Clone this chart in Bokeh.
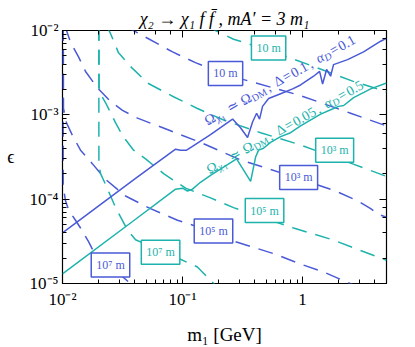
import math
from bokeh.plotting import figure
from bokeh.models import Range1d, LogAxis, Label, CustomJSTickFormatter
from bokeh.embed import file_html
from bokeh.resources import INLINE

BLUE = "#4a5ad6"
TEAL = "#1db3ac"
FONT = "Liberation Serif"

XMIN, XMAX = 0.01, 5.0
YMIN, YMAX = 1e-5, 1e-2

x_ticks = [0.01, 0.1, 1.0]
x_tick_labels = ["10⁻²", "10⁻¹", "1"]
y_ticks = [1e-5, 1e-4, 1e-3, 1e-2]
y_tick_labels = ["10⁻⁵", "10⁻⁴", "10⁻³", "10⁻²"]

# relic-density lines  (Omega_chi1 = Omega_DM)
relic_d01_m = [0.01, 0.0406, 0.0875, 0.0961, 0.108, 0.121, 0.171, 0.261, 0.304, 0.348, 0.383, 0.414,
               0.438, 0.464, 0.521, 0.656, 0.826, 0.962, 1.235, 1.386, 1.468, 1.585, 1.711, 1.81,
               2.37, 3.22, 4.47, 5.0]
relic_d01_eps = [3.98e-5, 1.76e-4, 3.91e-4, 3.81e-4, 3.81e-4, 4.24e-4, 5.82e-4, 8.91e-4, 7.02e-4,
                 5.38e-4, 8.22e-4, 1.045e-3, 8.91e-4, 1.26e-3, 1.56e-3, 1.78e-3, 2.03e-3, 2.26e-3,
                 2.87e-3, 3.27e-3, 2.32e-3, 3.45e-3, 2.87e-3, 3.94e-3, 4.51e-3, 5.57e-3, 7.46e-3, 8.09e-3]
relic_d005_m = [0.01, 0.0406, 0.0875, 0.1, 0.110, 0.121, 0.141, 0.171, 0.282, 0.369, 0.406, 0.430,
                0.473, 0.541, 0.656, 0.794, 0.962, 1.413, 1.81, 1.995, 2.20, 2.66, 3.69, 5.0]
relic_d005_eps = [1.30e-5, 5.78e-5, 1.315e-4, 1.35e-4, 1.25e-4, 1.315e-4, 1.585e-4, 1.91e-4, 3.00e-4,
                  1.625e-4, 3.16e-4, 3.81e-4, 4.02e-4, 4.71e-4, 5.52e-4, 6.14e-4, 7.39e-4, 1.02e-3,
                  1.19e-3, 1.26e-3, 1.29e-3, 1.60e-3, 2.03e-3, 2.38e-3]

# decay-length contours, Delta = 0.1 (blue)
b10_m = [0.0329, 0.0511, 0.0826, 0.128, 0.233, 0.335, 0.962, 2.51, 5.0]
b10_eps = [1.14e-2, 8.09e-3, 5.57e-3, 4.16e-3, 2.94e-3, 2.58e-3, 1.69e-3, 1.045e-3, 7.39e-4]
b1e3_m = [0.01059, 0.0108, 0.01166, 0.0136, 0.01556, 0.0196, 0.0251, 0.0316, 0.0422, 0.0794, 0.141,
          0.304, 0.927, 1.88, 2.87, 3.69, 4.30, 5.0]
b1e3_eps = [1.14e-2, 1.0e-2, 7.26e-3, 4.87e-3, 3.27e-3, 2.08e-3, 1.44e-3, 1.13e-3, 9.14e-4, 6.47e-4,
            4.71e-4, 2.92e-4, 1.76e-4, 1.25e-4, 9.57e-5, 7.72e-5, 6.59e-5, 6.10e-5]
b1e5_m = [0.01015, 0.01019, 0.0108, 0.01212, 0.01413, 0.01778, 0.0228, 0.0335, 0.0541, 0.0908, 0.181,
          0.277, 0.596, 0.962, 1.496, 2.71]
b1e5_eps = [1.14e-2, 1.19e-3, 8.02e-4, 5.68e-4, 3.81e-4, 2.62e-4, 1.72e-4, 1.09e-4, 7.72e-5, 5.62e-5,
            4.09e-5, 3.13e-5, 2.22e-5, 1.70e-5, 1.37e-5, 9.48e-6]
b1e7_m = [0.01012, 0.01013, 0.01059, 0.01122, 0.01283, 0.01413, 0.01648, 0.01778, 0.0251, 0.0391]
b1e7_eps = [1.14e-2, 1.43e-4, 9.57e-5, 7.53e-5, 5.62e-5, 4.55e-5, 3.13e-5, 2.54e-5, 1.61e-5, 9.23e-6]

# decay-length contours, Delta = 0.05 (teal)
t10_m = [0.1555, 0.196, 0.266, 0.521, 1.122, 2.61, 5.0]
t10_eps = [1.14e-2, 9.73e-3, 7.87e-3, 5.87e-3, 3.94e-3, 2.51e-3, 1.875e-3]
t1e3_m = [0.0233, 0.0251, 0.0293, 0.0369, 0.0511, 0.0841, 0.133, 0.220, 0.447, 0.927, 2.61, 5.0]
t1e3_eps = [1.14e-2, 9.23e-3, 5.43e-3, 3.74e-3, 2.38e-3, 1.64e-3, 1.19e-3, 8.67e-4, 6.14e-4, 4.47e-4,
            2.62e-4, 1.86e-4]
t1e5_m = [0.0201, 0.02018, 0.0211, 0.0228, 0.0277, 0.0316, 0.0391, 0.0492, 0.0695, 0.106, 0.171, 0.266,
          0.841, 1.778, 2.87, 5.0]
t1e5_eps = [1.14e-2, 2.14e-3, 1.69e-3, 1.40e-3, 8.02e-4, 5.68e-4, 3.81e-4, 3.00e-4, 2.01e-4, 1.35e-4,
            1.035e-4, 7.94e-5, 4.55e-5, 3.30e-5, 2.54e-5, 1.89e-5]
t1e7_m = [0.02007, 0.0201, 0.02075, 0.0228, 0.0277, 0.0348, 0.0406, 0.0961, 0.133, 0.192]
t1e7_eps = [1.14e-2, 2.56e-4, 2.01e-4, 1.50e-4, 7.94e-5, 4.32e-5, 3.30e-5, 1.94e-5, 1.57e-5, 9.23e-6]

contour_texts = ["10 m", "10³ m", "10⁵ m", "10⁷ m"]
blue_label_m = [0.228, 0.927, 0.181, 0.0251]
blue_label_eps = [3.10e-3, 1.81e-4, 4.20e-5, 1.66e-5]
teal_label_m = [0.521, 1.85, 0.482, 0.0656]
teal_label_eps = [6.19e-3, 3.81e-4, 7.32e-5, 2.34e-5]

TITLE = "χ₂ → χ₁ f f̄ , mA′ = 3 m₁"
X_LABEL = "m₁ [GeV]"
Y_LABEL = "ϵ"

FW, FH = 324, 260
L, T = 62, 30  # frame top-left on the page
BR, BB = 29, 57

p = figure(x_axis_type="log", y_axis_type="log",
           x_range=Range1d(XMIN, XMAX), y_range=Range1d(YMIN, YMAX),
           width=L + FW + BR, height=T + FH + BB,
           min_border_left=L, min_border_right=BR, min_border_top=T, min_border_bottom=BB,
           output_backend="svg", toolbar_location=None, title=TITLE)
p.xgrid.visible = False
p.ygrid.visible = False
p.outline_line_color = "black"
p.outline_line_width = 1.2
p.background_fill_color = "white"
p.border_fill_color = "white"

p.title.align = "center"
p.title.text_font = FONT
p.title.text_font_size = "18px"
p.title.text_font_style = "italic"
p.title.text_color = "black"
p.title.standoff = 3

bottom_axis = p.below[0]
left_axis = p.left[0]


def fmt(tvals, tlabels):
    return CustomJSTickFormatter(args=dict(tvals=tvals, tlabels=tlabels), code="""
        let best = 0, bd = Infinity;
        for (let i = 0; i < tvals.length; i++) {
            const d = Math.abs(Math.log10(tick) - Math.log10(tvals[i]));
            if (d < bd) { bd = d; best = i; }
        }
        return bd < 0.01 ? tlabels[best] : "";
    """)


top_axis = LogAxis()
right_axis = LogAxis()
p.add_layout(top_axis, "above")
p.add_layout(right_axis, "right")
bottom_axis.formatter = fmt(x_ticks, x_tick_labels)
left_axis.formatter = fmt(y_ticks, y_tick_labels)
top_axis.formatter = CustomJSTickFormatter(code="return '';")
right_axis.formatter = CustomJSTickFormatter(code="return '';")
for ax in [bottom_axis, left_axis, top_axis, right_axis]:
    ax.axis_line_color = None
    ax.major_tick_in = 7
    ax.major_tick_out = 0
    ax.minor_tick_in = 4
    ax.minor_tick_out = 0
    ax.major_tick_line_color = "black"
    ax.minor_tick_line_color = "black"
    ax.major_label_text_font = FONT
    ax.major_label_text_font_size = "17px"
    ax.major_label_text_font_style = "normal"
    ax.major_label_text_color = "black"
    ax.major_label_standoff = 4
bottom_axis.major_label_standoff = 6
top_axis.major_label_text_font_size = "1px"
right_axis.major_label_text_font_size = "1px"
top_axis.major_label_standoff = 0
right_axis.major_label_standoff = 0

bottom_axis.axis_label = X_LABEL
bottom_axis.axis_label_text_font = FONT
bottom_axis.axis_label_text_font_size = "19px"
bottom_axis.axis_label_text_font_style = "normal"
bottom_axis.axis_label_text_color = "black"
bottom_axis.axis_label_standoff = 12

left_axis.axis_label = Y_LABEL
left_axis.axis_label_orientation = "horizontal"
left_axis.axis_label_text_font = FONT
left_axis.axis_label_text_font_size = "18px"
left_axis.axis_label_text_font_style = "normal"
left_axis.axis_label_text_color = "black"
left_axis.axis_label_standoff = 12

DASH = "15 9"
for xs, ys in [(b10_m, b10_eps), (b1e3_m, b1e3_eps), (b1e5_m, b1e5_eps), (b1e7_m, b1e7_eps)]:
    p.line(xs, ys, line_color=BLUE, line_width=1.5, line_dash=DASH)
for xs, ys in [(t10_m, t10_eps), (t1e3_m, t1e3_eps), (t1e5_m, t1e5_eps), (t1e7_m, t1e7_eps)]:
    p.line(xs, ys, line_color=TEAL, line_width=1.5, line_dash=DASH)
p.line(relic_d01_m, relic_d01_eps, line_color=BLUE, line_width=1.5)
p.line(relic_d005_m, relic_d005_eps, line_color=TEAL, line_width=1.5)

for txt, xm, ye in zip(contour_texts, blue_label_m, blue_label_eps):
    p.add_layout(Label(x=xm, y=ye, text=txt, text_align="center", text_baseline="middle",
                       text_font=FONT, text_font_size="12px", text_color=BLUE,
                       background_fill_color="white", border_line_color=BLUE,
                       border_line_width=1.5, padding=5))
for txt, xm, ye in zip(contour_texts, teal_label_m, teal_label_eps):
    p.add_layout(Label(x=xm, y=ye, text=txt, text_align="center", text_baseline="middle",
                       text_font=FONT, text_font_size="12px", text_color=TEAL,
                       background_fill_color="white", border_line_color=TEAL,
                       border_line_width=1.5, padding=5))


def to_data(px, py):
    lx = math.log10(XMIN) + (px - L) / FW * (math.log10(XMAX) - math.log10(XMIN))
    ly = math.log10(YMAX) - (py - T) / FH * (math.log10(YMAX) - math.log10(YMIN))
    return 10 ** lx, 10 ** ly


W = {'Ω': 0.768, 'χ': 0.52, 'α': 0.54, 'Δ': 0.612, '≃': 0.7, '=': 0.564, '.': 0.25, ',': 0.25,
     ' ': 0.25, 'D': 0.722, 'M': 0.889}


def width(txt, size):
    return sum(W.get(c, 0.5) for c in txt) * size


def put_rotated(pieces, x0, y0, angle_deg, color):
    th = math.radians(angle_deg)
    ux, uy = math.cos(th), -math.sin(th)
    nx, ny = -math.sin(th), -math.cos(th)
    d = 0.0
    for txt, size, shift, style, gap in pieces:
        px = x0 + d * ux + shift * nx
        py = y0 + d * uy + shift * ny
        xm, ye = to_data(px, py)
        p.add_layout(Label(x=xm, y=ye, text=txt, angle=th, text_font=FONT,
                           text_font_size=f"{size}px", text_font_style=style, text_color=color,
                           text_baseline="alphabetic", text_align="left"))
        d += width(txt, size) + gap


def relic_pieces(delta, alpha):
    return [("Ω", 14, 0, "normal", 0), ("χ", 10, -3, "italic", 0), ("1", 7.5, -5.5, "normal", 6),
            ("≃", 14, 0, "normal", 6), ("Ω", 14, 0, "normal", 0), ("DM", 10, -3, "normal", 2),
            (",", 14, 0, "normal", 6), ("Δ", 14, 0, "normal", 1.5), ("=", 14, 0, "normal", 1.5),
            (delta, 14, 0, "normal", 2), (",", 14, 0, "normal", 6), ("α", 14, 0, "italic", 0),
            ("D", 10, -3, "italic", 1.5), ("=", 14, 0, "normal", 1.5), (alpha, 14, 0, "normal", 0)]


put_rotated(relic_pieces("0.1", "0.1"), 205, 124, 30, BLUE)
put_rotated(relic_pieces("0.05", "0.5"), 207, 174, 30, TEAL)

open("out.html", "w").write(file_html(p, INLINE))
